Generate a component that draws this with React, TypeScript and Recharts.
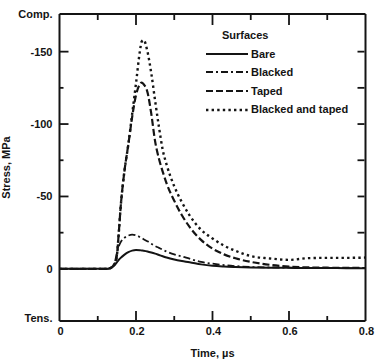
import { Line, LineChart, XAxis, YAxis } from "recharts";

// time, µs
const times = [
	0, 0.1, 0.125, 0.135, 0.14, 0.145, 0.15, 0.155, 0.16, 0.17, 0.18, 0.19, 0.2,
	0.21, 0.215, 0.22, 0.23, 0.24, 0.25, 0.26, 0.27, 0.28, 0.3, 0.32, 0.34, 0.37,
	0.4, 0.43, 0.46, 0.5, 0.55, 0.6, 0.65, 0.7, 0.75, 0.8,
];

// stress, MPa (compression negative)
const bare = [
	0, 0, 0, -0.8, -1.6, -2.8, -4.5, -6.2, -7.6, -9.8, -11.5, -12.6, -13, -12.9,
	-12.7, -12.5, -12, -11.3, -10.5, -9.6, -8.7, -7.8, -6.4, -5.4, -4.6, -3.1,
	-2.1, -1.6, -1.3, -1, -0.8, -0.7, -0.6, -0.6, -0.5, -0.5,
];
const blacked = [
	0, 0, 0, -0.8, -2, -5, -11, -15.5, -18.5, -21.5, -23, -23.6, -23.2, -22,
	-21.3, -20.5, -19, -17.3, -15.8, -14.5, -13.2, -12, -10, -8.6, -7, -4.8,
	-3.6, -2.6, -1.9, -1.3, -1, -0.8, -0.6, -0.6, -0.5, -0.5,
];
const taped = [
	0, 0, 0, -0.8, -2, -4, -9, -25, -43, -68, -86, -105, -120, -127.5, -128.6,
	-127.5, -122, -107, -88, -76, -67, -59, -47, -37, -29, -20, -14, -10, -7.3,
	-4.8, -2.8, -1.6, -1, -0.8, -0.7, -0.6,
];
const blackedTaped = [
	0, 0, 0, -0.8, -2, -4, -9, -25, -43, -68, -86, -107, -128, -150, -157, -158,
	-150, -135, -116, -98, -82, -72, -57, -46, -37, -27, -21, -16, -12.5, -8.8,
	-7.2, -6.2, -7.4, -7.6, -7.6, -7.8,
];

const xTicks = [0, 0.1, 0.2, 0.3, 0.4, 0.5, 0.6, 0.7, 0.8];
const yTicks = [-176, -150, -125, -100, -75, -50, -25, 0, 36];
const yLabels: Record<number, string> = {
	[-176]: "Comp.",
	[-150]: "-150",
	[-100]: "-100",
	[-50]: "-50",
	0: "0",
	36: "Tens.",
};

const seriesNames = ["Bare", "Blacked", "Taped", "Blacked and taped"];
const seriesData = [bare, blacked, taped, blackedTaped];
const seriesStyle = [
	{ width: 2, dash: undefined },
	{ width: 1.8, dash: "7 3 2 3" },
	{ width: 2.2, dash: "7 3" },
	{ width: 2.4, dash: "2.4 3.2" },
];

const data = times.map((t, i) => {
	const row: Record<string, number> = { t };
	seriesNames.forEach((name, s) => {
		row[name] = seriesData[s][i];
	});
	return row;
});

const INK = "#141414";
const FONT = "'Liberation Sans', Arial, sans-serif";
const TICK_SIZE = 3;
const TICK_MARGIN = 4;
const GAP = TICK_SIZE + TICK_MARGIN;
const TICK_W = 1.8;
const X_DOMAIN = [0, 0.8];
const Y_DOMAIN = [-176, 36];

const textProps = {
	fontFamily: FONT,
	fontSize: 11,
	fontWeight: 700,
	fill: INK,
};

const isMajorX = (v: number) => Math.round(v * 10) % 2 === 0;
const isEdgeY = (v: number) => v === -176 || v === 36;

function BottomTick({ x, y, payload }: any) {
	const v = payload.value;
	const major = isMajorX(v);
	const px = Number(x);
	const axisY = Number(y) - GAP;
	return (
		<g>
			{v > 0 && v < 0.8 && (
				<path d={`M${px},${axisY}v${major ? -10 : -5}`} stroke={INK} strokeWidth={TICK_W} />
			)}
			{major && (
				<text x={px + 1} y={Number(y) - 1} dy="0.71em" textAnchor="middle" {...textProps}>
					{v === 0 ? "0" : v.toFixed(1)}
				</text>
			)}
		</g>
	);
}

function TopTick({ x, y, payload }: any) {
	const v = payload.value;
	if (v <= 0 || v >= 0.8) return <g />;
	const axisY = Number(y) + GAP + 1;
	return <path d={`M${Number(x)},${axisY}v${isMajorX(v) ? 10 : 5}`} stroke={INK} strokeWidth={TICK_W} />;
}

function LeftTick({ x, y, payload }: any) {
	const v = payload.value;
	const px = Number(x);
	const py = Number(y);
	const axisX = px + GAP;
	const label = yLabels[v];
	return (
		<g>
			{!isEdgeY(v) && <path d={`M${axisX},${py}h${label ? 9 : 4}`} stroke={INK} strokeWidth={TICK_W} />}
			{label && (
				<text x={px} y={v === 36 ? py - 3 : py} dy="0.355em" textAnchor="end" {...textProps}>
					{label}
				</text>
			)}
		</g>
	);
}

function RightTick({ x, y, payload }: any) {
	const v = payload.value;
	if (isEdgeY(v) || v >= 0) return <g />;
	const axisX = Number(x) - GAP - 1;
	return <path d={`M${axisX},${Number(y)}h-7`} stroke={INK} strokeWidth={TICK_W} />;
}

function LegendBox() {
	return (
		<div
			style={{
				position: "absolute",
				left: 206,
				top: 26,
				fontFamily: FONT,
				fontSize: 11,
				fontWeight: 700,
				color: INK,
				lineHeight: "18.6px",
			}}
		>
			<div style={{ paddingLeft: 16 }}>Surfaces</div>
			{seriesNames.map((name, s) => (
				<div key={name} style={{ display: "flex", alignItems: "center", height: 18.6 }}>
					<svg width={42} height={10} style={{ marginRight: 3 }}>
						<line
							x1={0}
							x2={42}
							y1={5}
							y2={5}
							stroke={INK}
							strokeWidth={seriesStyle[s].width}
							strokeDasharray={seriesStyle[s].dash}
						/>
					</svg>
					<span>{name}</span>
				</div>
			))}
		</div>
	);
}

export default function App() {
	const axisLine = { stroke: INK, strokeWidth: 2 };
	return (
		<div style={{ position: "absolute", left: 0, top: 0, width: 377, height: 361, background: "#fff" }}>
			<LineChart
				width={377}
				height={361}
				data={data}
				margin={{ top: 13, right: 10.5, left: 0, bottom: 0 }}
				style={{ fontFamily: FONT }}
			>
				<XAxis
					dataKey="t"
					type="number"
					domain={X_DOMAIN}
					ticks={xTicks}
					interval={0}
					allowDataOverflow
					height={40}
					axisLine={axisLine}
					tickLine={false}
					tickSize={TICK_SIZE}
					tickMargin={TICK_MARGIN}
					tick={<BottomTick />}
					label={{
						value: "Time, µs",
						position: "insideBottom",
						offset: 4,
						style: { ...textProps },
					}}
				/>
				<XAxis
					xAxisId="top"
					dataKey="t"
					orientation="top"
					type="number"
					domain={X_DOMAIN}
					ticks={xTicks}
					interval={0}
					allowDataOverflow
					height={1}
					axisLine={axisLine}
					tickLine={false}
					tickSize={TICK_SIZE}
					tickMargin={TICK_MARGIN}
					tick={<TopTick />}
				/>
				<YAxis
					type="number"
					reversed
					domain={Y_DOMAIN}
					ticks={yTicks}
					interval={0}
					allowDataOverflow
					width={59.5}
					axisLine={axisLine}
					tickLine={false}
					tickSize={TICK_SIZE}
					tickMargin={TICK_MARGIN}
					tick={<LeftTick />}
					label={{
						value: "Stress, MPa",
						angle: -90,
						position: "insideLeft",
						offset: 6,
						style: { ...textProps, textAnchor: "middle" },
					}}
				/>
				<YAxis
					yAxisId="right"
					orientation="right"
					type="number"
					reversed
					domain={Y_DOMAIN}
					ticks={yTicks}
					interval={0}
					allowDataOverflow
					width={1}
					axisLine={axisLine}
					tickLine={false}
					tickSize={TICK_SIZE}
					tickMargin={TICK_MARGIN}
					tick={<RightTick />}
				/>
				{seriesNames.map((name, s) => {
					// the last series is drawn against the top/right frame axes (same domains)
					const frame = s === seriesNames.length - 1;
					return (
						<Line
							key={name}
							dataKey={name}
							xAxisId={frame ? "top" : 0}
							yAxisId={frame ? "right" : 0}
							type="monotone"
							stroke={INK}
							strokeWidth={seriesStyle[s].width}
							strokeDasharray={seriesStyle[s].dash}
							dot={false}
							activeDot={false}
							isAnimationActive={false}
						/>
					);
				})}
			</LineChart>
			<LegendBox />
		</div>
	);
}
